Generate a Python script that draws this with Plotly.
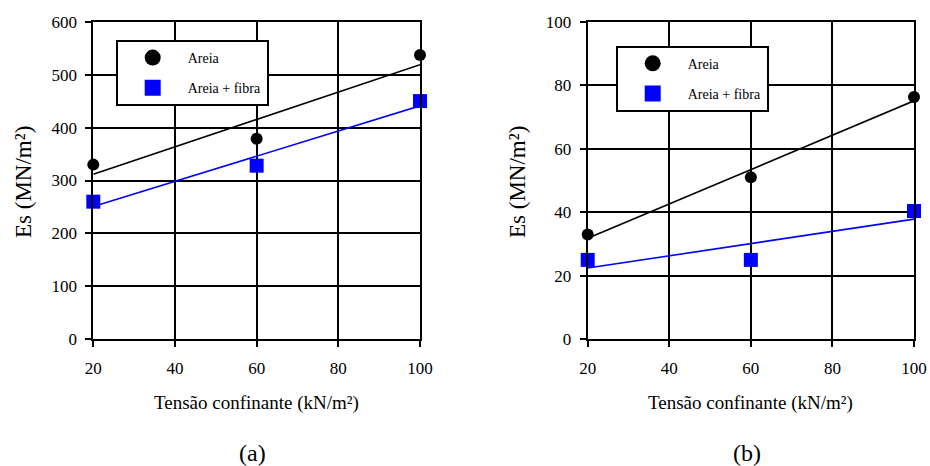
import numpy as np
import plotly.graph_objects as go

# Confining stress (kN/m²)
tensao = [20, 60, 100]

# Es (MN/m²) - panel (a)
es_areia_a = [330, 379, 537]
es_fibra_a = [260, 328, 450]

# Es (MN/m²) - panel (b)
es_areia_b = [33, 51, 76.3]
es_fibra_b = [25, 25, 40.4]

x_ticks = [20, 40, 60, 80, 100]
y_ticks_a = [0, 100, 200, 300, 400, 500, 600]
y_ticks_b = [0, 20, 40, 60, 80, 100]

SERIF = "Liberation Serif"
BLUE = "#0000FF"

fig = go.Figure()


def trend(x, y):
    # least-squares linear trendline evaluated at the measured stresses
    k, b = np.polyfit(x, y, 1)
    xs = np.asarray(x, dtype=float)
    return xs, k * xs + b


panels = [
    ("x", "y", "legend", es_areia_a, es_fibra_a),
    ("x2", "y2", "legend2", es_areia_b, es_fibra_b),
]

for xa, ya, lg, areia, fibra in panels:
    for vals, color in ((areia, "black"), (fibra, BLUE)):
        tx, ty = trend(tensao, vals)
        fig.add_trace(go.Scatter(
            x=tx, y=ty, mode="lines", xaxis=xa, yaxis=ya,
            line=dict(color=color, width=1.6),
            showlegend=False, hoverinfo="skip"))
    fig.add_trace(go.Scatter(
        x=tensao, y=areia, mode="markers", xaxis=xa, yaxis=ya,
        marker=dict(symbol="circle", size=12, color="black"),
        cliponaxis=False, showlegend=False))
    fig.add_trace(go.Scatter(
        x=tensao, y=fibra, mode="markers", xaxis=xa, yaxis=ya,
        marker=dict(symbol="square", size=14, color=BLUE),
        cliponaxis=False, showlegend=False))
    # legend entries
    fig.add_trace(go.Scatter(
        x=[None], y=[None], mode="markers", xaxis=xa, yaxis=ya,
        name="Areia", legend=lg, legendgroup="a" + lg,
        marker=dict(symbol="circle", size=16, color="black")))
    fig.add_trace(go.Scatter(
        x=[None], y=[None], mode="markers", xaxis=xa, yaxis=ya,
        name="Areia + fibra", legend=lg, legendgroup="f" + lg,
        marker=dict(symbol="square", size=16, color=BLUE)))

W, H = 930, 466
y_dom = [1 - 339.3 / H, 1 - 21.7 / H]

axis_common = dict(
    showgrid=True, gridcolor="black", gridwidth=2,
    showline=True, linecolor="black", linewidth=2, mirror=True,
    ticks="outside", ticklen=6, tickwidth=2, tickcolor="black",
    tickfont=dict(family=SERIF, size=17, color="black"),
    zeroline=False, fixedrange=True, automargin=False,
)

legend_common = dict(
    bgcolor="white", bordercolor="black", borderwidth=2,
    font=dict(family=SERIF, size=14, color="black"),
    xanchor="left", yanchor="top", itemwidth=60,
    tracegroupgap=9, traceorder="grouped",
)

fig.update_layout(
    width=W, height=H,
    margin=dict(l=0, r=0, t=0, b=0),
    paper_bgcolor="white", plot_bgcolor="white",
    xaxis=dict(domain=[93.3 / W, 420 / W], range=[20, 100],
               tickvals=x_ticks, anchor="y", ticklabelstandoff=6, **axis_common),
    yaxis=dict(domain=y_dom, range=[0, 600], tickvals=y_ticks_a,
               anchor="x", ticklabelstandoff=5, **axis_common),
    xaxis2=dict(domain=[587.7 / W, 914 / W], range=[20, 100],
                tickvals=x_ticks, anchor="y2", ticklabelstandoff=6, **axis_common),
    yaxis2=dict(domain=y_dom, range=[0, 100], tickvals=y_ticks_b,
                anchor="x2", ticklabelstandoff=5, **axis_common),
    legend=dict(x=115.7 / W, y=1 - 40 / H, **legend_common),
    legend2=dict(x=615.7 / W, y=1 - 45.7 / H, **legend_common),
)

texts = [
    # x-axis titles
    dict(text="Tensão confinante (kN/m²)", x=256.7 / W, y=1 - 403 / H,
         size=19, angle=0),
    dict(text="Tensão confinante (kN/m²)", x=750.8 / W, y=1 - 403 / H,
         size=19, angle=0),
    # y-axis titles
    dict(text="Es (MN/m²)", x=23 / W, y=1 - 182 / H, size=23, angle=-90),
    dict(text="Es (MN/m²)", x=517 / W, y=1 - 182 / H, size=23, angle=-90),
    # panel labels
    dict(text="(a)", x=252 / W, y=1 - 453 / H, size=24, angle=0),
    dict(text="(b)", x=747 / W, y=1 - 453 / H, size=24, angle=0),
]
for t in texts:
    fig.add_annotation(
        text=t["text"], x=t["x"], y=t["y"], xref="paper", yref="paper",
        xanchor="center", yanchor="middle", showarrow=False,
        textangle=t["angle"],
        font=dict(family=SERIF, size=t["size"], color="black"))

fig.write_html("out.html")
